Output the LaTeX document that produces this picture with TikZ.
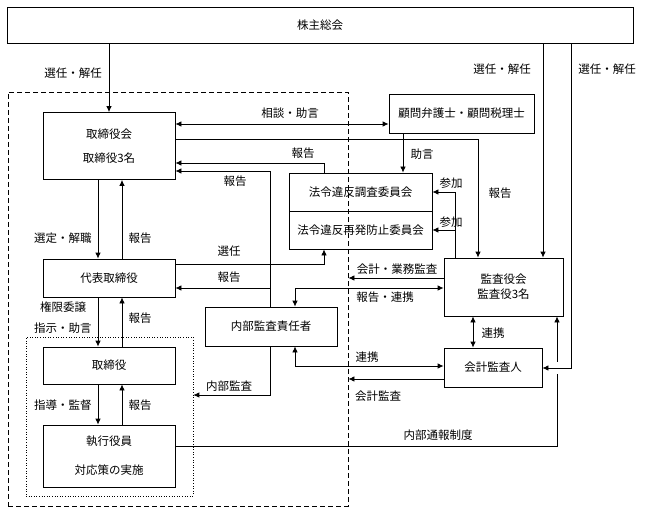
\documentclass[tikz,border=0pt]{standalone}
\usepackage{fontspec}
\newfontfamily\jpfont{Noto Sans CJK JP}
\usetikzlibrary{arrows.meta}

\begin{document}
\begin{tikzpicture}[x=1pt,y=-1pt,
  font=\jpfont\fontsize{11.5}{14}\selectfont,
  box/.style={draw,line width=0.8pt,inner sep=0pt,align=center},
  arr/.style={line width=0.8pt,-{Latex[length=6pt,width=5.5pt]}},
  darr/.style={line width=0.8pt,{Latex[length=6pt,width=5.5pt]}-{Latex[length=6pt,width=5.5pt]}},
  lbl/.style={inner sep=0pt}]
\useasboundingbox (0,0) rectangle (648,508);
\node[draw,dash pattern=on 5pt off 3pt,line width=0.8pt,minimum width=340pt,minimum height=414pt] (kaisha) at (178,299) {};
\node[draw,dotted,line width=0.6pt,minimum width=167pt,minimum height=159pt] (gun) at (109.5,416.5) {};
\node[box,minimum width=626pt,minimum height=36pt] (soukai) at (320,25) {株主総会};
\node[box,minimum width=132pt,minimum height=67pt] (torikai) at (109,146) {取締役会\\[10pt]取締役3名};
\node[box,minimum width=132pt,minimum height=38pt] (daihyo) at (109,278) {代表取締役};
\node[box,minimum width=132pt,minimum height=37pt] (tori) at (109,365.5) {取締役};
\node[box,minimum width=132pt,minimum height=62pt] (shikko) at (109,456) {執行役員\\[15pt]対応策の実施};
\node[box,minimum width=132pt,minimum height=39pt] (naibu) at (271,326.5) {内部監査責任者};
\node[box,minimum width=143pt,minimum height=38pt] (chosa) at (360.5,192) {法令違反調査委員会};
\node[box,minimum width=143pt,minimum height=38pt] (saihatsu) at (360.5,230) {法令違反再発防止委員会};
\node[box,minimum width=145pt,minimum height=39pt] (komon) at (461.5,113.5) {顧問弁護士・顧問税理士};
\node[box,minimum width=119pt,minimum height=58pt] (kansa) at (503.5,287) {監査役会\\[1pt]監査役3名};
\node[box,minimum width=98pt,minimum height=39pt] (kaikei) at (493,367.5) {会計監査人};

\draw[arr] (torikai.north |- soukai.south) -- (torikai.north);
\draw[arr] (soukai.south -| 543,0) -- (kansa.north -| 543,0);
\draw[darr] (torikai.east |- 0,124) -- (komon.west |- 0,124);
\draw[arr] (torikai.east |- 0,139) -| (kansa.north -| 478,0);
\draw[arr] (komon.south -| 403,0) -- (chosa.north -| 403,0);
\draw[arr] (chosa.north -| 324,0) |- (torikai.east |- 0,163);
\draw[arr] (naibu.north -| 270,0) |- (torikai.east |- 0,171);
\draw[arr] (naibu.north -| 270,0) |- (daihyo.east |- 0,288);
\draw[arr] (daihyo.east |- 0,264) -| (saihatsu.south -| 324,0);
\draw[arr] (kansa.north -| 455,0) |- (chosa.east);
\draw[arr] (kansa.north -| 455,0) |- (saihatsu.east);
\draw[arr] (kansa.west |- 0,278) -- (kaisha.east |- 0,278);
\draw[darr] (kansa.west |- 0,288) -| (naibu.north -| 295,0);
\draw[darr] (kansa.south -| 473,0) -- (kaikei.north -| 473,0);
\draw[darr] (naibu.south -| 295,0) |- (kaikei.west |- 0,366);
\draw[arr] (kaikei.west |- 0,379) -- (kaisha.east |- 0,379);
\draw[arr] (naibu.south -| 270,0) |- (gun.east |- 0,395);
\draw[arr] (shikko.east |- 0,446) -| (kansa.south -| 557,0);
\fill[white] (553,362) rectangle (561,374);
\draw[arr] (soukai.south -| 571,0) |- (kaikei.east |- 0,368);
\draw[arr] (torikai.south -| 98,0) -- (daihyo.north -| 98,0);
\draw[arr] (daihyo.north -| 122,0) -- (torikai.south -| 122,0);
\draw[arr] (daihyo.south -| 98,0) -- (tori.north -| 98,0);
\draw[arr] (tori.north -| 122,0) -- (daihyo.south -| 122,0);
\draw[arr] (tori.south -| 98,0) -- (shikko.north -| 98,0);
\draw[arr] (shikko.north -| 122,0) -- (tori.south -| 122,0);

\node[lbl] (l1) at (73,73) {選任・解任};
\node[lbl] (l2) at (502,69) {選任・解任};
\node[lbl] (l3) at (607,69) {選任・解任};
\node[lbl] (l4) at (290,113) {相談・助言};
\node[lbl] (l5) at (303,153) {報告};
\node[lbl] (l6) at (235,181) {報告};
\node[lbl] (l7) at (422,154) {助言};
\node[lbl] (l8) at (500,193) {報告};
\node[lbl] (l9) at (451,183) {参加};
\node[lbl] (l10) at (451,222) {参加};
\node[lbl] (l11) at (63,238) {選定・解職};
\node[lbl] (l12) at (140,238) {報告};
\node[lbl] (l13) at (229,251) {選任};
\node[lbl] (l14) at (229,277) {報告};
\node[lbl] (l15) at (397,269) {会計・業務監査};
\node[lbl] (l16) at (385,297) {報告・連携};
\node[lbl] (l17) at (63,307) {権限委譲};
\node[lbl] (l18) at (63,328) {指示・助言};
\node[lbl] (l19) at (140,318) {報告};
\node[lbl] (l20) at (493,333) {連携};
\node[lbl] (l21) at (367,357) {連携};
\node[lbl] (l22) at (229,386) {内部監査};
\node[lbl] (l23) at (378,396) {会計監査};
\node[lbl] (l24) at (63,405) {指導・監督};
\node[lbl] (l25) at (140,405) {報告};
\node[lbl] (l26) at (438,435) {内部通報制度};
\end{tikzpicture}
\end{document}
